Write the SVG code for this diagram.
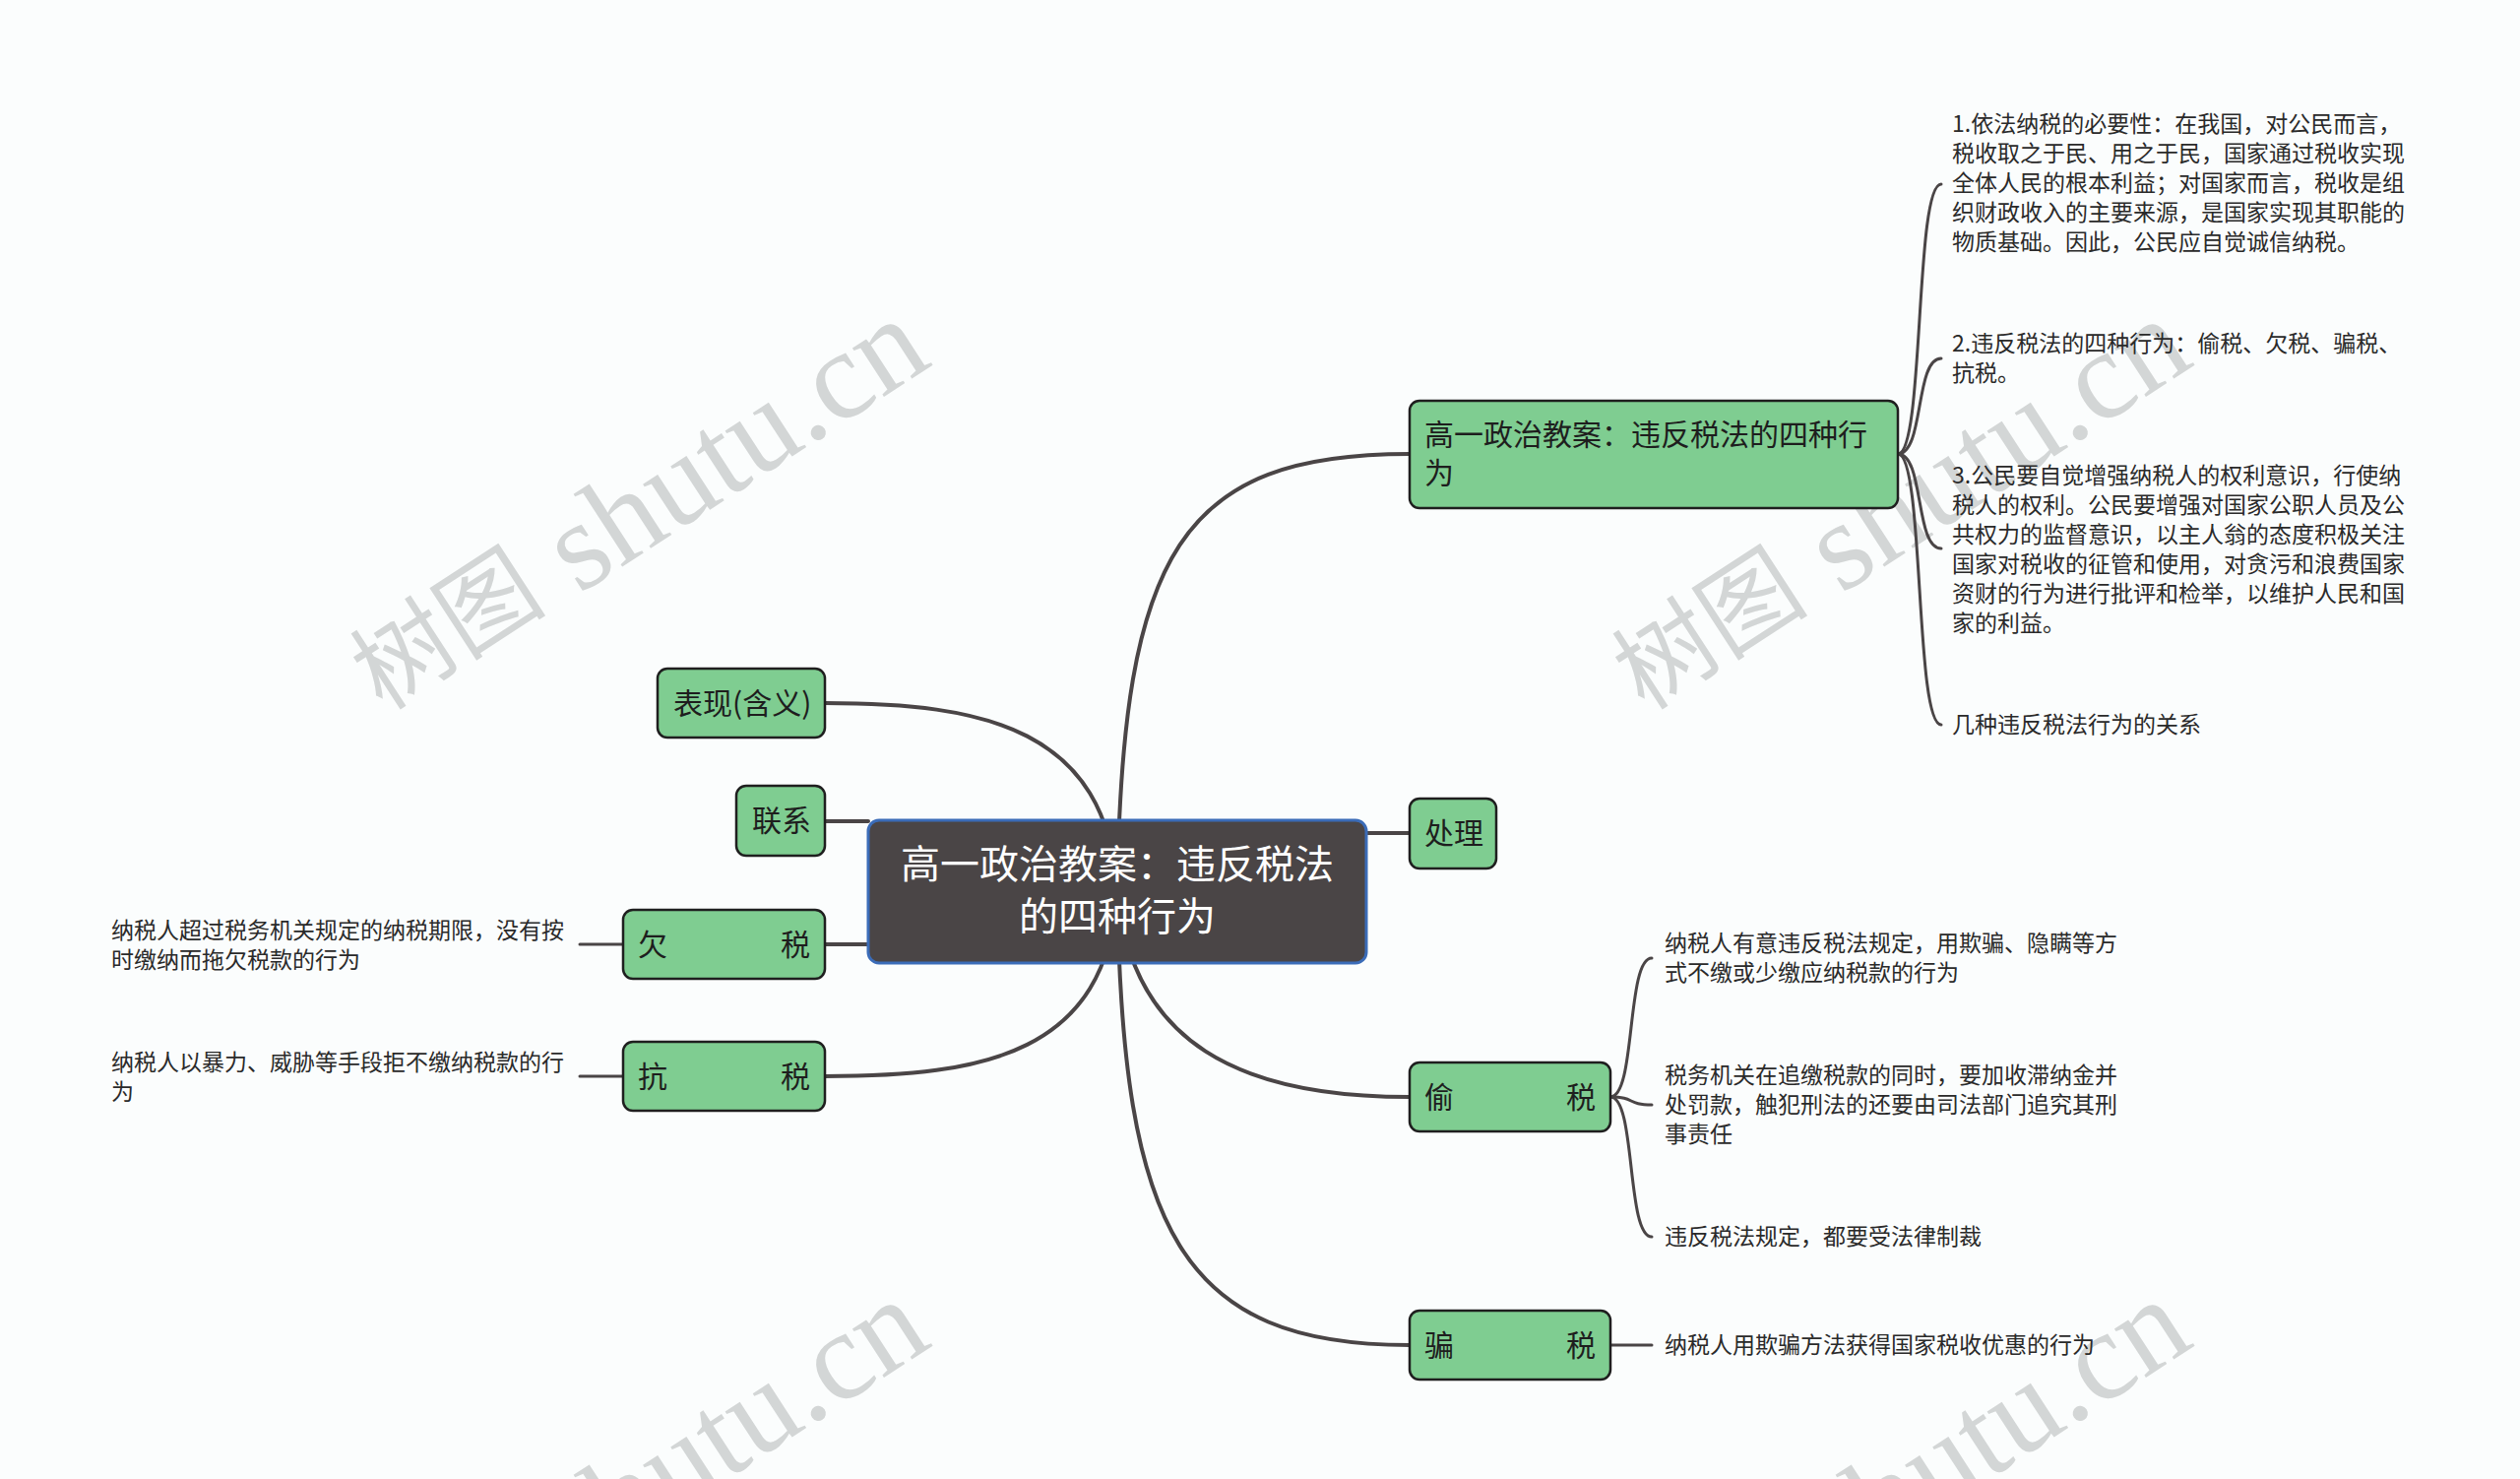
<svg xmlns="http://www.w3.org/2000/svg" width="2560" height="1502" viewBox="0 0 2560 1502">
<style>
.bg{fill:#fbfdfd}
.wm{font-family:"Liberation Serif","Noto Sans CJK SC",serif;font-size:128px;fill:#d3d6d6}
.wmc{font-size:100px}
.node{fill:#7fcd91;stroke:#1f1f1f;stroke-width:2.5}
.root{fill:#4a4546;stroke:#3b6cb8;stroke-width:3}
.nt{font-family:"Noto Sans CJK SC","Noto Sans",sans-serif;font-size:30px;fill:#1e1e1e}
.rt{font-family:"Noto Sans CJK SC","Noto Sans",sans-serif;font-size:40px;fill:#ffffff;text-anchor:middle}
.lt{font-family:"Noto Sans CJK SC","Noto Sans",sans-serif;font-size:23px;fill:#2a2a2a}
.c{fill:none;stroke:#4a4546;stroke-width:4;stroke-linecap:round}
.cs{fill:none;stroke:#4a4546;stroke-width:3;stroke-linecap:round}
</style>
<rect class="bg" x="0" y="0" width="2560" height="1502"/>
<g id="watermarks">
<text class="wm" dominant-baseline="central" text-anchor="middle" transform="translate(648,514) rotate(-33)"><tspan class="wmc">树图</tspan> shutu.cn</text>
<text class="wm" dominant-baseline="central" text-anchor="middle" transform="translate(1930,514) rotate(-33)"><tspan class="wmc">树图</tspan> shutu.cn</text>
<text class="wm" dominant-baseline="central" text-anchor="middle" transform="translate(648,1510) rotate(-33)"><tspan class="wmc">树图</tspan> shutu.cn</text>
<text class="wm" dominant-baseline="central" text-anchor="middle" transform="translate(1930,1510) rotate(-33)"><tspan class="wmc">树图</tspan> shutu.cn</text>
</g>
<g id="connectors">
<path class="c" d="M1135,905 C1140,560 1200,461 1432,461"/>
<path class="c" d="M1135,905 C1125,740 1000,714 838,714"/>
<path class="c" d="M838,834 L882,834"/>
<path class="c" d="M838,959 L882,959"/>
<path class="c" d="M1135,905 C1125,1070 1000,1093 838,1093"/>
<path class="c" d="M1388,846 L1432,846"/>
<path class="c" d="M1135,905 C1150,1060 1260,1114 1432,1114"/>
<path class="c" d="M1135,905 C1140,1250 1200,1366 1432,1366"/>
<path class="cs" d="M1928,461 C1955,461 1945,187 1972,187"/>
<path class="cs" d="M1928,461 C1955,461 1945,364 1972,364"/>
<path class="cs" d="M1928,461 C1955,461 1945,557 1972,557"/>
<path class="cs" d="M1928,461 C1955,461 1945,736 1972,736"/>
<path class="cs" d="M1636,1114 C1662,1114 1652,973 1678,973"/>
<path class="cs" d="M1636,1114 C1662,1114 1652,1122 1678,1122"/>
<path class="cs" d="M1636,1114 C1662,1114 1652,1256 1678,1256"/>
<path class="cs" d="M1636,1366 L1678,1366"/>
<path class="cs" d="M589,959 L633,959"/>
<path class="cs" d="M589,1093 L633,1093"/>
</g>
<g id="root">
<rect class="root" x="882" y="833" width="506" height="145" rx="11"/>
<text class="rt" x="1135" y="892">高一政治教案：违反税法</text>
<text class="rt" x="1135" y="945">的四种行为</text>
</g>
<g id="n-main">
<rect class="node" x="1432" y="407" width="496" height="109" rx="10"/>
<text class="nt" x="1447" y="452">高一政治教案：违反税法的四种行</text>
<text class="nt" x="1447" y="491">为</text>
</g>
<g id="n-chuli">
<rect class="node" x="1432" y="811" width="88" height="71" rx="10"/>
<text class="nt" x="1447" y="857">处理</text>
</g>
<g id="n-toushui">
<rect class="node" x="1432" y="1079" width="204" height="70" rx="10"/>
<text class="nt"><tspan x="1447" y="1125">偷</tspan><tspan x="1591" y="1125">税</tspan></text>
</g>
<g id="n-pianshui">
<rect class="node" x="1432" y="1331" width="204" height="70" rx="10"/>
<text class="nt"><tspan x="1447" y="1377">骗</tspan><tspan x="1591" y="1377">税</tspan></text>
</g>
<g id="n-biaoxian">
<rect class="node" x="668" y="679" width="170" height="70" rx="10"/>
<text class="nt" x="684" y="725">表现(含义)</text>
</g>
<g id="n-lianxi">
<rect class="node" x="748" y="798" width="90" height="71" rx="10"/>
<text class="nt" x="764" y="844">联系</text>
</g>
<g id="n-qianshui">
<rect class="node" x="633" y="924" width="205" height="70" rx="10"/>
<text class="nt"><tspan x="648" y="970">欠</tspan><tspan x="793" y="970">税</tspan></text>
</g>
<g id="n-kangshui">
<rect class="node" x="633" y="1058" width="205" height="70" rx="10"/>
<text class="nt"><tspan x="648" y="1104">抗</tspan><tspan x="793" y="1104">税</tspan></text>
</g>
<g id="leaf-1">
<text class="lt"><tspan x="1983" y="134">1.依法纳税的必要性：在我国，对公民而言，</tspan><tspan x="1983" y="164">税收取之于民、用之于民，国家通过税收实现</tspan><tspan x="1983" y="194">全体人民的根本利益；对国家而言，税收是组</tspan><tspan x="1983" y="224">织财政收入的主要来源，是国家实现其职能的</tspan><tspan x="1983" y="254">物质基础。因此，公民应自觉诚信纳税。</tspan></text>
</g>
<g id="leaf-2">
<text class="lt"><tspan x="1983" y="357">2.违反税法的四种行为：偷税、欠税、骗税、</tspan><tspan x="1983" y="387">抗税。</tspan></text>
</g>
<g id="leaf-3">
<text class="lt"><tspan x="1983" y="491">3.公民要自觉增强纳税人的权利意识，行使纳</tspan><tspan x="1983" y="521">税人的权利。公民要增强对国家公职人员及公</tspan><tspan x="1983" y="551">共权力的监督意识，以主人翁的态度积极关注</tspan><tspan x="1983" y="581">国家对税收的征管和使用，对贪污和浪费国家</tspan><tspan x="1983" y="611">资财的行为进行批评和检举，以维护人民和国</tspan><tspan x="1983" y="641">家的利益。</tspan></text>
</g>
<g id="leaf-4">
<text class="lt" x="1983" y="744">几种违反税法行为的关系</text>
</g>
<g id="leaf-tou-1">
<text class="lt"><tspan x="1691" y="966">纳税人有意违反税法规定，用欺骗、隐瞒等方</tspan><tspan x="1691" y="996">式不缴或少缴应纳税款的行为</tspan></text>
</g>
<g id="leaf-tou-2">
<text class="lt"><tspan x="1691" y="1100">税务机关在追缴税款的同时，要加收滞纳金并</tspan><tspan x="1691" y="1130">处罚款，触犯刑法的还要由司法部门追究其刑</tspan><tspan x="1691" y="1160">事责任</tspan></text>
</g>
<g id="leaf-tou-3">
<text class="lt" x="1691" y="1264">违反税法规定，都要受法律制裁</text>
</g>
<g id="leaf-pian">
<text class="lt" x="1691" y="1374">纳税人用欺骗方法获得国家税收优惠的行为</text>
</g>
<g id="leaf-qian">
<text class="lt"><tspan x="113" y="953">纳税人超过税务机关规定的纳税期限，没有按</tspan><tspan x="113" y="983">时缴纳而拖欠税款的行为</tspan></text>
</g>
<g id="leaf-kang">
<text class="lt"><tspan x="113" y="1087">纳税人以暴力、威胁等手段拒不缴纳税款的行</tspan><tspan x="113" y="1117">为</tspan></text>
</g>
</svg>
